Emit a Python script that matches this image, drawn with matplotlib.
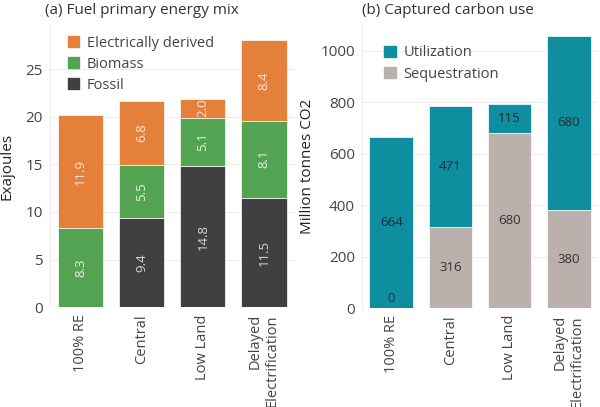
import matplotlib
matplotlib.use('Agg')
import matplotlib.pyplot as plt
from matplotlib.patches import Patch
import numpy as np

plt.rcParams['font.family'] = ['Open Sans', 'DejaVu Sans']

scenarios = ['100% RE', 'Central', 'Low Land', 'Delayed\nElectrification']

# (a) fuel primary energy mix, exajoules
fossil = [0, 9.4, 14.8, 11.5]
biomass = [8.3, 5.5, 5.1, 8.1]
electric = [11.9, 6.8, 2.0, 8.4]

# (b) captured carbon use, million tonnes CO2
sequestration = [0, 316, 680, 380]
utilization = [664, 471, 115, 680]

c_orange = '#E5803A'
c_green = '#52A352'
c_dark = '#404042'
c_teal = '#0E8E9E'
c_grey = '#BAB0AC'
grid_c = '#EDEDED'
txt_c = '#444444'


def style_axes(ax, ylim, yticks):
    ax.set_xlim(-0.5, 3.5)
    ax.set_ylim(*ylim)
    ax.set_yticks(yticks)
    ax.set_xticks(range(len(scenarios)))
    ax.set_xticklabels(scenarios, rotation=90, ha='center', va='top',
                       multialignment='right', fontsize=10.5, color=txt_c)
    ax.tick_params(axis='y', labelsize=11, labelcolor=txt_c, length=0, pad=5)
    ax.tick_params(axis='x', length=0, pad=5)
    for s in ['top', 'right', 'bottom']:
        ax.spines[s].set_visible(False)
    ax.spines['left'].set_color(grid_c)
    ax.grid(axis='y', color=grid_c, linewidth=0.8)
    ax.set_axisbelow(True)
    ax.axhline(0, color=grid_c, linewidth=0.8, zorder=0)


fig = plt.figure(figsize=(6, 4.07), dpi=100)
ax1 = fig.add_axes([0.083, 0.245, 0.408, 0.693])
ax2 = fig.add_axes([0.603, 0.243, 0.394, 0.695])

x = np.arange(len(scenarios))
w = 0.74

# panel a
b0 = np.array(fossil)
b1 = b0 + np.array(biomass)
ax1.bar(x, fossil, w, color=c_dark, edgecolor='white', linewidth=0.5)
ax1.bar(x, biomass, w, bottom=b0, color=c_green, edgecolor='white', linewidth=0.5)
ax1.bar(x, electric, w, bottom=b1, color=c_orange, edgecolor='white', linewidth=0.5)
for i in range(len(x)):
    if fossil[i] > 0:
        ax1.text(x[i], fossil[i] / 2, '%.1f' % fossil[i], rotation=90, ha='center',
                 va='center', fontsize=9.5, color='#D8D8D8')
    ax1.text(x[i], b0[i] + biomass[i] / 2, '%.1f' % biomass[i], rotation=90, ha='center',
             va='center', fontsize=9.5, color='#E6F2E6')
    ax1.text(x[i], b1[i] + electric[i] / 2, '%.1f' % electric[i], rotation=90, ha='center',
             va='center', fontsize=9.5, color='#FBE8DA')
style_axes(ax1, (0, 29.6), [0, 5, 10, 15, 20, 25])
ax1.set_ylabel('Exajoules', fontsize=11, color='#222222', fontweight='medium', labelpad=8)
ax1.set_title('(a) Fuel primary energy mix', fontsize=11, color='#333333', loc='left',
              x=-0.02, pad=8)
h1 = [Patch(color=c_orange), Patch(color=c_green), Patch(color=c_dark)]
ax1.legend(h1, ['Electrically derived', 'Biomass', 'Fossil'], loc='upper left',
           bbox_to_anchor=(0.02, 1.01), frameon=False, fontsize=10.5,
           handlelength=0.8, handleheight=0.8, handletextpad=0.5, labelspacing=0.42,
           labelcolor=txt_c)

# panel b
s0 = np.array(sequestration)
ax2.bar(x, sequestration, w, color=c_grey, edgecolor='white', linewidth=0.5)
ax2.bar(x, utilization, w, bottom=s0, color=c_teal, edgecolor='white', linewidth=0.5)
for i in range(len(x)):
    ax2.text(x[i], max(sequestration[i] / 2, 38), '%d' % sequestration[i], ha='center',
             va='center', fontsize=9.5, color='#333333')
    ax2.text(x[i], s0[i] + utilization[i] / 2, '%d' % utilization[i], ha='center',
             va='center', fontsize=9.5, color='#1C2B2E')
style_axes(ax2, (0, 1100), [0, 200, 400, 600, 800, 1000])
ax2.set_ylabel('Million tonnes CO2', fontsize=11, color='#222222', fontweight='medium',
               labelpad=4)
ax2.set_title('(b) Captured carbon use', fontsize=11, color='#333333', loc='left',
              x=0.0, pad=8)
h2 = [Patch(color=c_teal), Patch(color=c_grey)]
ax2.legend(h2, ['Utilization', 'Sequestration'], loc='upper left',
           bbox_to_anchor=(0.04, 0.975), frameon=False, fontsize=10.5,
           handlelength=0.8, handleheight=0.8, handletextpad=0.5, labelspacing=0.42,
           labelcolor=txt_c)

fig.savefig('out.png', dpi=100)
